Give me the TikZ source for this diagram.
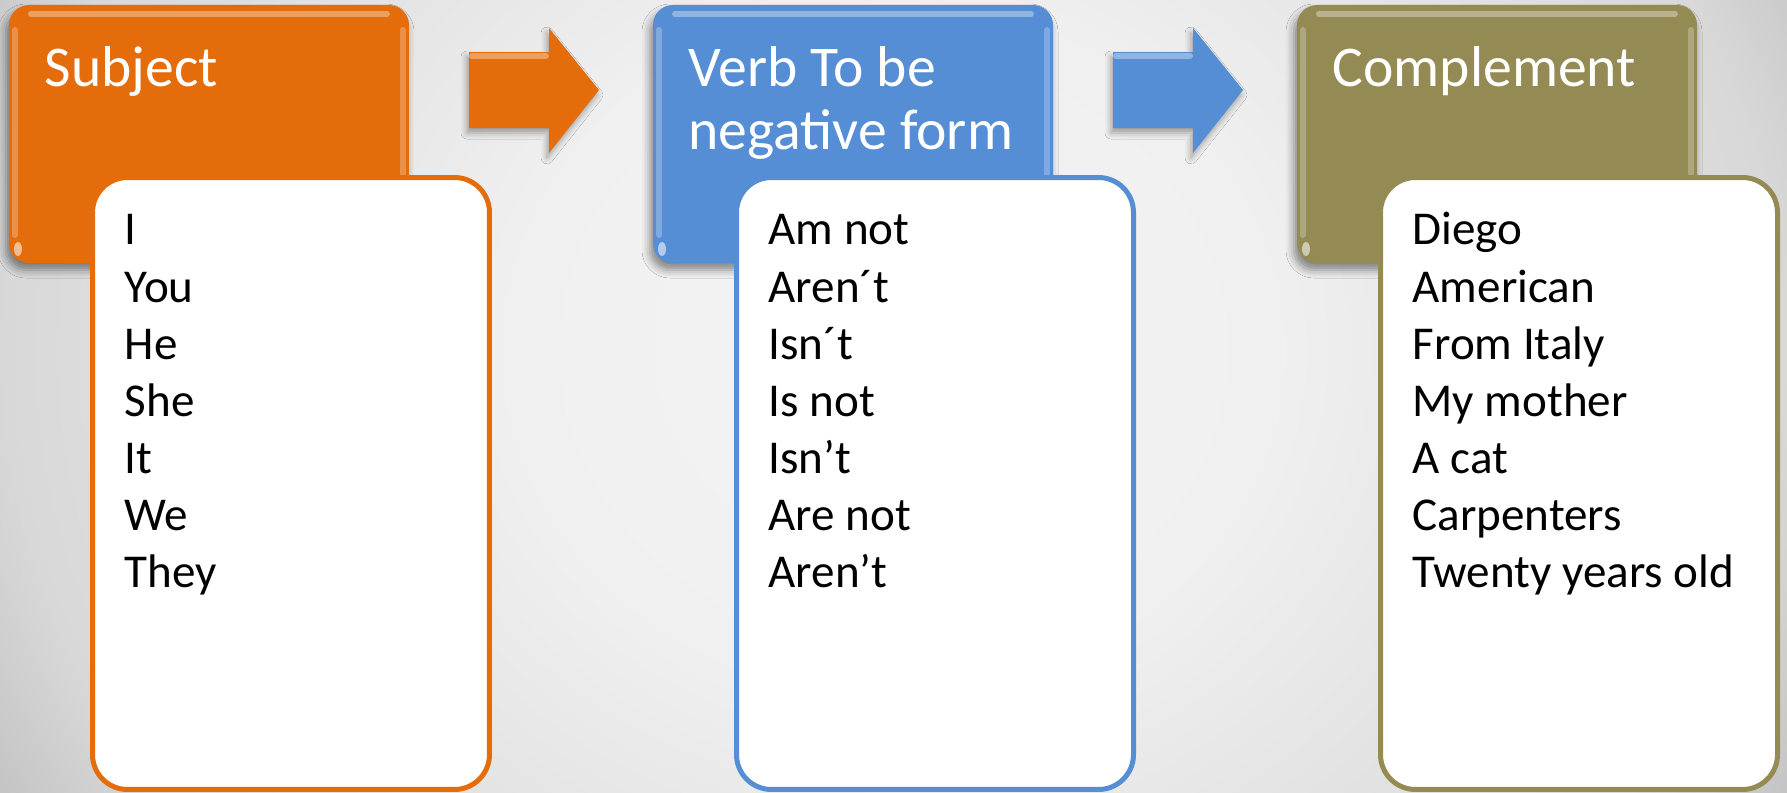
\documentclass[tikz,border=0pt]{standalone}
\usepackage{fontspec}
\setmainfont{Carlito}
\usetikzlibrary{shadows.blur}
\definecolor{cOr}{HTML}{E46C0A}
\definecolor{cBl}{HTML}{558ED5}
\definecolor{cOl}{HTML}{948A54}
\definecolor{bgA}{HTML}{F4F4F4}
\definecolor{bgB}{HTML}{F0F0F0}
\definecolor{bgC}{HTML}{D8D8D8}
\definecolor{bgD}{HTML}{B2B2B2}
\definecolor{bgE}{HTML}{A0A0A0}
\pgfdeclareradialshading{bgshade}{\pgfpoint{0bp}{0bp}}{color(0bp)=(bgA); color(10.6bp)=(bgB); color(24.7bp)=(bgC); color(31.8bp)=(bgD); color(35.4bp)=(bgE); color(50bp)=(bgE)}
\begin{document}
\begin{tikzpicture}[x=0.1mm, y=-0.1mm,
  hdrbox/.style={rectangle, rounded corners=2mm, inner sep=0pt, outer sep=0pt,
    minimum width=40mm, minimum height=25.8mm, anchor=north west,
    blur shadow={shadow xshift=-0.3mm, shadow yshift=-0.7mm, shadow blur radius=0.8mm, shadow opacity=45}},
  listbox/.style={rectangle, rounded corners=3.5mm, fill=white, line width=0.5mm,
    inner sep=0pt, outer sep=0pt, minimum width=39.7mm, minimum height=61.2mm, anchor=north west},
  hdrtext/.style={text=white, font=\fontsize{16.4pt}{18pt}\selectfont, inner sep=0pt, anchor=base west},
  item/.style={text=black, font=\fontsize{13.4pt}{16pt}\selectfont, inner sep=0pt, anchor=base west},
  hl/.style={draw=white, draw opacity=0.35, line width=0.6mm, line cap=round},
  glint/.style={fill=white, fill opacity=0.55},
  blockarrow/.style={blur shadow={shadow xshift=-0.2mm, shadow yshift=-0.5mm, shadow blur radius=0.6mm, shadow opacity=35}}
]
\useasboundingbox (0,0) rectangle (1787,793);
% background
\begin{scope}
  \clip (0,0) rectangle (1787,793);
  \shade[shading=bgshade] (-7,-450) rectangle (1793,1150);
\end{scope}

% header boxes
\node[hdrbox, fill=cOr] (h1) at (9,5) {};
\node[hdrbox, fill=cBl] (h2) at (653,5) {};
\node[hdrbox, fill=cOl] (h3) at (1297,5) {};

% bevel highlights on headers
\foreach \hx in {9,653,1297}{
  \draw[hl] (\hx+22,14) -- (\hx+378,14);
  \draw[hl, draw opacity=0.25] (\hx+6,30) -- (\hx+6,235);
  \draw[hl, draw opacity=0.25] (\hx+394,30) -- (\hx+394,235);
  \fill[glint] (\hx+9,249) ellipse [x radius=4, y radius=7];
}

% block arrows
\fill[cOr, blockarrow] (469,52) -- (549,52) -- (549,28) -- (599,90) -- (549,153) -- (549,128) -- (469,128) -- cycle;
\fill[cBl, blockarrow] (1113,52) -- (1193,52) -- (1193,28) -- (1243,90) -- (1193,153) -- (1193,128) -- (1113,128) -- cycle;
\draw[hl] (472,56) -- (546,56);
\draw[hl] (1116,56) -- (1190,56);

% header texts
\node[hdrtext] (t1) at (44,86) {Subject};
\node[hdrtext] (t2a) at (688,86) {Verb To be};
\node[hdrtext] (t2b) at (688,149) {negative form};
\node[hdrtext] (t3) at (1332,86) {Complement};

% list boxes
\node[listbox, draw=cOr] (b1) at (92.5,177.5) {};
\node[listbox, draw=cBl] (b2) at (736.5,177.5) {};
\node[listbox, draw=cOl] (b3) at (1380.5,177.5) {};

% list items
\foreach \t [count=\i] in {I, You, He, She, It, We, They}
  \node[item] (s\i) at (124,245+57*\i-57) {\t};
\foreach \t [count=\i] in {Am not, Aren´t, Isn´t, Is not, Isn’t, Are not, Aren’t}
  \node[item] (v\i) at (768,245+57*\i-57) {\t};
\foreach \t [count=\i] in {Diego, American, From Italy, My mother, A cat, Carpenters, Twenty years old}
  \node[item] (c\i) at (1412,245+57*\i-57) {\t};
\end{tikzpicture}
\end{document}
